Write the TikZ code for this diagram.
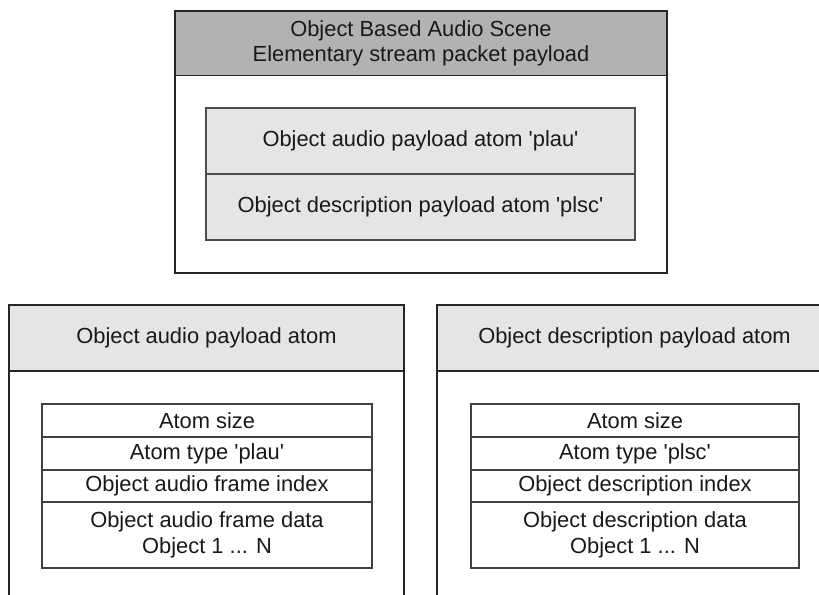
\documentclass[tikz,border=0pt]{standalone}
\usepackage{fontspec}
\setmainfont{Liberation Sans}[Ligatures=TeXOff]
\begin{document}
\begin{tikzpicture}[x=0.75pt,y=-0.75pt,
  every node/.style={inner sep=0pt, outer sep=0pt, font=\fontsize{16.4}{19}\selectfont, text=black!90, align=center},
  outer/.style={draw=black!85, line width=0.9pt, fill=white},
  hdrdark/.style={draw=black!85, line width=0.9pt, fill=black!30},
  hdrlight/.style={draw=black!85, line width=0.9pt, fill=black!10},
  grayrow/.style={draw=black!70, line width=0.9pt, fill=black!10},
  whiterow/.style={draw=black!75, line width=0.9pt, fill=white}]
\useasboundingbox (0,0) rectangle (819,594);
\clip (0,0) rectangle (819,594);
% top structure
\node[outer, minimum width=492*0.75pt, minimum height=262*0.75pt] (top) at (421,142) {};
\node[hdrdark, minimum width=492*0.75pt, minimum height=64.5*0.75pt] (tophdr) at (421,43.25) {Object Based Audio Scene\\Elementary stream packet payload};
\node[grayrow, minimum width=429*0.75pt, minimum height=66*0.75pt] (plau) at (420.5,141) {Object audio payload atom 'plau'};
\node[grayrow, minimum width=429*0.75pt, minimum height=66*0.75pt] (plsc) at (420.5,207) {Object description payload atom 'plsc'};
% bottom left
\node[outer, minimum width=395*0.75pt, minimum height=330*0.75pt] (left) at (206.5,470) {};
\node[hdrlight, minimum width=395*0.75pt, minimum height=66*0.75pt] (lefthdr) at (206.5,338) {Object audio payload atom};
\node[whiterow, minimum width=330*0.75pt, minimum height=33*0.75pt] (l1) at (207,420.5) {Atom size};
\node[whiterow, minimum width=330*0.75pt, minimum height=33*0.75pt] (l2) at (207,453.5) {Atom type 'plau'};
\node[whiterow, minimum width=330*0.75pt, minimum height=32*0.75pt] (l3) at (207,486) {Object audio frame index};
\node[whiterow, minimum width=330*0.75pt, minimum height=66*0.75pt] (l4) at (207,535) {Object audio frame data\\Object 1 ... N};
% bottom right
\node[outer, minimum width=395*0.75pt, minimum height=330*0.75pt] (right) at (634.5,470) {};
\node[hdrlight, minimum width=395*0.75pt, minimum height=66*0.75pt] (righthdr) at (634.5,338) {Object description payload atom};
\node[whiterow, minimum width=328*0.75pt, minimum height=33*0.75pt] (r1) at (635,420.5) {Atom size};
\node[whiterow, minimum width=328*0.75pt, minimum height=33*0.75pt] (r2) at (635,453.5) {Atom type 'plsc'};
\node[whiterow, minimum width=328*0.75pt, minimum height=32*0.75pt] (r3) at (635,486) {Object description index};
\node[whiterow, minimum width=328*0.75pt, minimum height=66*0.75pt] (r4) at (635,535) {Object description data\\Object 1 ... N};
\end{tikzpicture}
\end{document}
